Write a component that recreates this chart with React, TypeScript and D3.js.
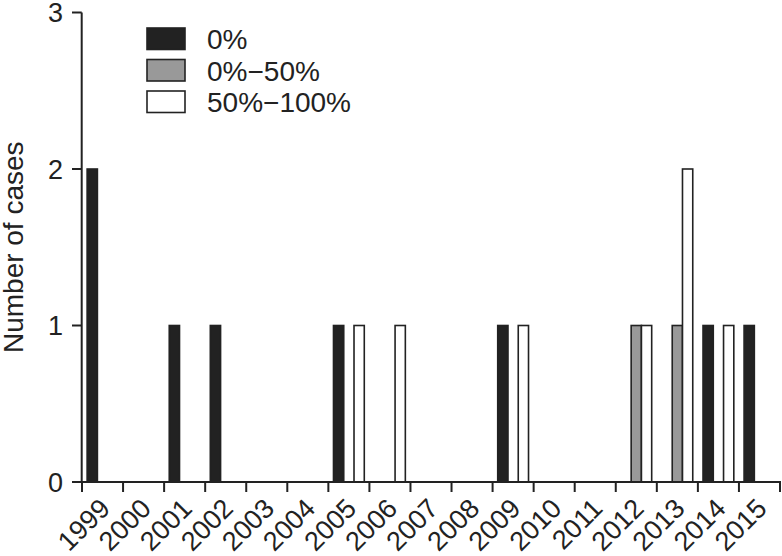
import React from 'react';
import * as d3 from 'd3';

const years = ['1999','2000','2001','2002','2003','2004','2005','2006','2007','2008','2009','2010','2011','2012','2013','2014','2015'];
const seriesNames = ['0%', '0%\u221250%', '50%\u2212100%'];
const values0 = [2,0,1,1,0,0,1,0,0,0,1,0,0,0,0,1,1];
const values1 = [0,0,0,0,0,0,0,0,0,0,0,0,0,1,1,0,0];
const values2 = [0,0,0,0,0,0,1,1,0,0,1,0,0,1,2,1,0];
const yTicks = [0, 1, 2, 3];

const fills = ['#222222', '#999999', '#ffffff'];
const ink = '#222222';
const font = '"Liberation Sans", Arial, Helvetica, sans-serif';

export default function App() {
  const W = 782, H = 556;
  const x = d3.scaleBand<string>().domain(years).range([82, 780]).padding(0);
  const xs = d3.scaleBand<string>().domain(seriesNames).range([0, x.bandwidth()]).paddingInner(0).paddingOuter(0.5);
  const y = d3.scaleLinear().domain([0, 3]).range([482, 12.5]);
  const allSeries = [values0, values1, values2];
  const boundaries = [...years.map(d => x(d)!), x.range()[1]];

  return (
    <svg width={W} height={H} style={{ position: 'absolute', left: 0, top: 0, background: '#fff' }} fontFamily={font}>
      {/* bars */}
      {allSeries.map((vals, si) =>
        vals.map((v, i) => v > 0 ? (
          <rect key={`${si}-${i}`}
            x={x(years[i])! + xs(seriesNames[si])!}
            y={y(v)}
            width={xs.bandwidth()}
            height={y(0) - y(v)}
            fill={fills[si]} stroke={ink} strokeWidth={1.6} />
        ) : null)
      )}
      {/* y axis */}
      <line x1={81.7} x2={81.7} y1={y(3)} y2={y(0)} stroke={ink} strokeWidth={2} />
      {yTicks.map(t => (
        <g key={t}>
          <line x1={72} x2={81.7} y1={y(t)} y2={y(t)} stroke={ink} strokeWidth={2} />
          <text x={63} y={y(t)} dy="0.36em" textAnchor="end" fontSize={27} fill={ink}>{t}</text>
        </g>
      ))}
      <text transform={`translate(23,${(y(0) + y(3)) / 2}) rotate(-90)`} textAnchor="middle" fontSize={28} fill={ink}>Number of cases</text>
      {/* x axis */}
      <line x1={72} x2={781} y1={y(0)} y2={y(0)} stroke={ink} strokeWidth={2} />
      {boundaries.map((b, i) => (
        <line key={i} x1={b} x2={b} y1={y(0)} y2={y(0) + 10} stroke={ink} strokeWidth={2} />
      ))}
      {years.map(yr => {
        const cx = x(yr)! + x.bandwidth() / 2 + 9;
        return (
          <text key={yr} transform={`translate(${cx},510) rotate(-45)`} textAnchor="end" fontSize={27} fill={ink}>{yr}</text>
        );
      })}
      {/* legend */}
      {seriesNames.map((s, i) => (
        <g key={s} transform={`translate(0,${i * 31.5})`}>
          <rect x={147} y={28} width={38} height={21.5} fill={fills[i]} stroke={ink} strokeWidth={1.6} />
          <text x={207} y={49} fontSize={28} fill={ink}>{s}</text>
        </g>
      ))}
    </svg>
  );
}
